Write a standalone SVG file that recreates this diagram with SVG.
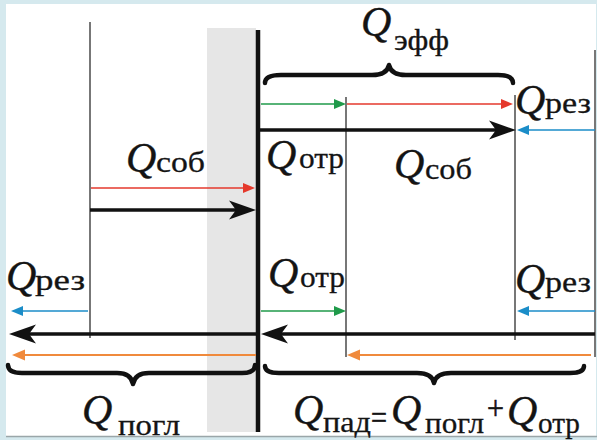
<svg xmlns="http://www.w3.org/2000/svg" width="597" height="440" viewBox="0 0 597 440">
<style>
.q{font-family:"Liberation Serif","DejaVu Serif",serif;font-style:italic;font-size:42px;fill:#141414;stroke:#141414;stroke-width:0.4}
.s{font-family:"Liberation Serif","DejaVu Serif",serif;font-size:29px;fill:#141414;stroke:#141414;stroke-width:0.3}
.op{font-family:"Liberation Serif","DejaVu Serif",serif;font-size:34px;fill:#141414;stroke:#141414;stroke-width:0.6}
.thin{stroke:#4a4a4a;stroke-width:1.5;fill:none}
.blk{stroke:#111;stroke-width:3.5;fill:none;marker-end:url(#hb)}
.g{stroke:#1f9a4a;stroke-width:1.4;fill:none;marker-end:url(#hg)}
.r{stroke:#e5392c;stroke-width:1.4;fill:none;marker-end:url(#hr)}
.b{stroke:#1b8dc8;stroke-width:1.4;fill:none;marker-end:url(#hbl)}
.o{stroke:#f08a3c;stroke-width:1.8;fill:none;marker-end:url(#ho)}
.br{stroke:#111;stroke-width:4.5;fill:none;stroke-linecap:round;stroke-linejoin:round}
</style>
<defs>
<marker id="hb" markerUnits="userSpaceOnUse" viewBox="-30 -12 32 24" markerWidth="32" markerHeight="24" refX="-12" refY="0" orient="auto"><path d="M1,0 L-26,-9.5 L-19,0 L-26,9.5 Z" fill="#111"/></marker>
<marker id="hg" markerUnits="userSpaceOnUse" viewBox="-16 -8 18 16" markerWidth="18" markerHeight="16" refX="-6" refY="0" orient="auto"><path d="M0,0 L-12,-5 L-12,5 Z" fill="#1f9a4a"/></marker>
<marker id="hr" markerUnits="userSpaceOnUse" viewBox="-16 -8 18 16" markerWidth="18" markerHeight="16" refX="-6" refY="0" orient="auto"><path d="M0,0 L-12,-5 L-12,5 Z" fill="#e5392c"/></marker>
<marker id="hbl" markerUnits="userSpaceOnUse" viewBox="-16 -8 18 16" markerWidth="18" markerHeight="16" refX="-6" refY="0" orient="auto"><path d="M0,0 L-12,-5 L-12,5 Z" fill="#1b8dc8"/></marker>
<marker id="ho" markerUnits="userSpaceOnUse" viewBox="-16 -8 18 16" markerWidth="18" markerHeight="16" refX="-6" refY="0" orient="auto"><path d="M0,0 L-13,-5.5 L-13,5.5 Z" fill="#f08a3c"/></marker>
</defs>
<rect x="0" y="0" width="597" height="440" fill="#d5e9ee"/>
<rect x="6" y="4" width="590" height="432" fill="#fff"/>
<line x1="6" y1="436.5" x2="597" y2="436.5" stroke="#9aa6a9" stroke-width="1.5"/>
<g id="wall">
<rect x="207" y="28" width="49" height="404" fill="#e6e6e6"/>
<line x1="258" y1="30" x2="258" y2="432" stroke="#111" stroke-width="4.5"/>
</g>
<g id="guides">
<line class="thin" x1="90" y1="22" x2="90" y2="338"/>
<line class="thin" x1="346" y1="97" x2="346" y2="357"/>
<line class="thin" x1="515" y1="95" x2="515" y2="340"/>
<line class="thin" x1="595" y1="50" x2="595" y2="357"/>
</g>
<g id="connectors">
<line class="g" x1="261" y1="104" x2="340" y2="104"/>
<line class="r" x1="347" y1="104" x2="507" y2="104"/>
<line class="blk" x1="260" y1="130" x2="503" y2="130"/>
<line class="b" x1="595" y1="130" x2="523" y2="130"/>
<line class="r" x1="91" y1="188" x2="249" y2="188"/>
<line class="blk" x1="90" y1="210" x2="243" y2="210"/>
<line class="g" x1="261" y1="311" x2="340" y2="311"/>
<line class="b" x1="595" y1="311" x2="523" y2="311"/>
<line class="b" x1="88" y1="311" x2="17" y2="311"/>
<line class="blk" x1="257" y1="334" x2="22" y2="334"/>
<line class="blk" x1="595" y1="334" x2="274" y2="334"/>
<line class="o" x1="256" y1="355" x2="18" y2="355"/>
<line class="o" x1="591" y1="355" x2="353" y2="355"/>
</g>
<g id="braces">
<path class="br" d="M265,83 Q265,75 281,75 L372,75 Q387,75 389,65 Q391,75 406,75 L498,75 Q513,75 513,83"/>
<path class="br" d="M8,365 Q8,373 22,373 L117,373 Q131,373 133,384 Q135,373 149,373 L242,373 Q255,373 255,365"/>
<path class="br" d="M265,366 Q265,373 279,373 L417,373 Q432,373 434,383 Q436,373 451,373 L570,373 Q584,373 584,366"/>
</g>
<g id="labels">
<g id="l-eff"><text class="q" x="361" y="36">Q</text><text class="s" x="394" y="50" textLength="55" lengthAdjust="spacingAndGlyphs">эфф</text></g>
<g id="l-rez1"><text class="q" x="515" y="114">Q</text><text class="s" x="545" y="113" textLength="46" lengthAdjust="spacingAndGlyphs">рез</text></g>
<g id="l-otr1"><text class="q" x="266" y="169">Q</text><text class="s" x="299" y="168" textLength="45" lengthAdjust="spacingAndGlyphs">отр</text></g>
<g id="l-sob2"><text class="q" x="394" y="178">Q</text><text class="s" x="425" y="179" textLength="47" lengthAdjust="spacingAndGlyphs">соб</text></g>
<g id="l-sob1"><text class="q" x="126" y="172">Q</text><text class="s" x="156" y="172" textLength="49" lengthAdjust="spacingAndGlyphs">соб</text></g>
<g id="l-rez2"><text class="q" x="6" y="290">Q</text><text class="s" x="35" y="290" textLength="50" lengthAdjust="spacingAndGlyphs">рез</text></g>
<g id="l-otr2"><text class="q" x="268" y="287">Q</text><text class="s" x="300" y="287" textLength="45" lengthAdjust="spacingAndGlyphs">отр</text></g>
<g id="l-rez3"><text class="q" x="515" y="293">Q</text><text class="s" x="545" y="292" textLength="46" lengthAdjust="spacingAndGlyphs">рез</text></g>
<g id="l-pogl"><text class="q" x="82" y="424">Q</text><text class="s" x="118" y="435" textLength="62" lengthAdjust="spacingAndGlyphs">погл</text></g>
<g id="l-pad">
<text class="q" x="293" y="424">Q</text><text class="s" x="323" y="432" textLength="48" lengthAdjust="spacingAndGlyphs">пад</text>
<text class="op" x="371" y="429" textLength="16" lengthAdjust="spacingAndGlyphs">=</text>
<text class="q" x="391" y="424">Q</text><text class="s" x="425" y="433" textLength="59" lengthAdjust="spacingAndGlyphs">погл</text>
<text class="op" x="487" y="419" textLength="17" lengthAdjust="spacingAndGlyphs">+</text>
<text class="q" x="507" y="425">Q</text><text class="s" x="538" y="433" textLength="42" lengthAdjust="spacingAndGlyphs">отр</text>
</g>
</g>
</svg>
